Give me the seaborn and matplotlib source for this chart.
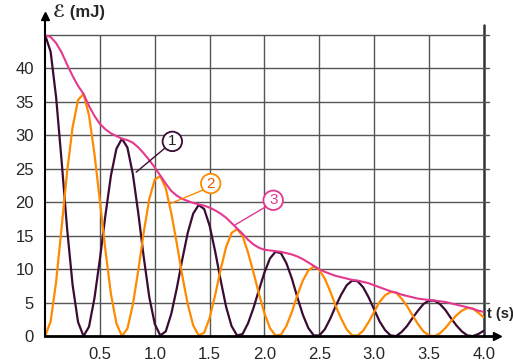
import numpy as np
import pandas as pd
import matplotlib
matplotlib.use("Agg")
import matplotlib.pyplot as plt
import seaborn as sns

# time axis (s), one point every 0.05 s
t = np.round(np.arange(0, 4.001, 0.05), 2)

# curve 1 (potential energy, mJ)
e1 = [45.0, 42.5, 35.7, 26.2, 16.1, 7.7, 2.1, 0.0, 1.4, 5.7,
      11.6, 18.1, 24.0, 28.0, 29.5, 28.2, 24.2, 18.3, 11.7, 5.8,
      1.8, 0.1, 0.7, 3.3, 7.1, 11.4, 15.4, 18.3, 19.6, 19.0,
      16.5, 12.7, 8.4, 4.4, 1.5, 0.1, 0.3, 1.9, 4.2, 6.9,
      9.5, 11.6, 12.6, 12.4, 10.9, 8.6, 5.8, 3.2, 1.2, 0.1,
      0.1, 1.0, 2.6, 4.5, 6.2, 7.6, 8.3, 8.2, 7.3, 5.8,
      4.0, 2.2, 0.9, 0.1, 0.0, 0.6, 1.5, 2.7, 3.8, 4.8,
      5.3, 5.3, 4.8, 3.9, 2.7, 1.6, 0.7, 0.1, 0.0, 0.3, 0.8]

# curve 2 (kinetic energy, mJ)
e2 = [0.0, 2.2, 8.1, 16.2, 24.5, 31.2, 35.3, 36.2, 33.0, 27.2,
      20.1, 12.8, 6.3, 1.9, 0.0, 1.1, 4.7, 9.9, 15.6, 20.5,
      23.4, 23.9, 22.1, 18.4, 13.9, 9.1, 4.8, 1.6, 0.1, 0.5,
      2.7, 6.1, 9.9, 13.3, 15.4, 16.0, 15.0, 12.5, 9.5, 6.3,
      3.4, 1.2, 0.1, 0.2, 1.5, 3.6, 6.1, 8.3, 9.8, 10.4,
      9.9, 8.6, 6.7, 4.5, 2.6, 1.0, 0.1, 0.1, 0.8, 2.1,
      3.6, 5.1, 6.1, 6.6, 6.5, 5.6, 4.5, 3.1, 1.8, 0.7,
      0.1, 0.0, 0.4, 1.2, 2.2, 3.1, 3.8, 4.2, 4.1, 3.5, 2.8]

# curve 3 (total energy, mJ)
e3 = [45.0, 44.7, 43.8, 42.4, 40.6, 38.9, 37.4, 36.2, 34.4, 32.9,
      31.7, 30.9, 30.3, 29.9, 29.5, 29.3, 28.9, 28.2, 27.3, 26.3,
      25.2, 24.0, 22.8, 21.7, 21.0, 20.5, 20.2, 19.9, 19.7, 19.5,
      19.2, 18.8, 18.3, 17.7, 16.9, 16.1, 15.3, 14.4, 13.7, 13.2,
      12.9, 12.8, 12.7, 12.6, 12.4, 12.2, 11.9, 11.5, 11.0, 10.5,
      10.0, 9.6, 9.3, 9.0, 8.8, 8.6, 8.4, 8.3, 8.1, 7.9,
      7.6, 7.3, 7.0, 6.7, 6.5, 6.2, 6.0, 5.8, 5.6, 5.5,
      5.4, 5.3, 5.2, 5.1, 4.9, 4.7, 4.5, 4.3, 4.1, 3.8, 3.6]

x_ticks = [0.5, 1.0, 1.5, 2.0, 2.5, 3.0, 3.5, 4.0]
y_ticks = [0, 5, 10, 15, 20, 25, 30, 35, 40]

purple = "#3b0b33"
orange = "#ff8a00"
pink = "#e4388f"

sns.set_style("white")
plt.rcParams['font.family'] = ['Liberation Sans', 'DejaVu Sans']

df = pd.DataFrame({"t": t, "e1": e1, "e2": e2, "e3": e3})

fig = plt.figure(figsize=(5.13, 3.61), dpi=100)
ax = fig.add_axes([0.088, 0.069, 0.855, 0.834])

# grid
for xv in x_ticks[:-1]:
    ax.axvline(xv, color="#555555", lw=1.0, zorder=0)
ax.plot([4.0, 4.0], [0, 46.5], color="#333333", lw=1.8, zorder=0, clip_on=False)
for yv in y_ticks[1:] + [45]:
    ax.plot([0, 4.05], [yv, yv], color="#555555", lw=1.0, zorder=0, clip_on=False)

sns.lineplot(data=df, x="t", y="e1", color=purple, lw=1.6, ax=ax)
sns.lineplot(data=df, x="t", y="e2", color=orange, lw=1.6, ax=ax)
sns.lineplot(data=df, x="t", y="e3", color=pink, lw=1.5, ax=ax)

ax.set_xlim(0, 4.0)
ax.set_ylim(0, 45)
ax.set_xticks(x_ticks)
ax.set_xticklabels([f"{v:.1f}" for v in x_ticks])
ax.set_yticks(y_ticks)
ax.set_yticklabels([str(v) for v in y_ticks])
ax.tick_params(axis="both", labelsize=12, length=5, width=1.2, direction="out",
               color="#222222", pad=3)
ax.set_xlabel("")
ax.set_ylabel("")

for s in ["top", "right"]:
    ax.spines[s].set_visible(False)
ax.spines["left"].set_linewidth(1.5)
ax.spines["bottom"].set_linewidth(2.0)
ax.spines["left"].set_color("black")
ax.spines["bottom"].set_color("black")

# axis arrows
ax.plot([0, 0], [45, 47.8], color="black", lw=1.5, clip_on=False)
ax.plot([0], [47.8], marker="^", ms=6, color="black", clip_on=False)
ax.plot([4.0, 4.12], [0, 0], color="black", lw=2.0, clip_on=False)
ax.plot([4.12], [0], marker=">", ms=6, color="black", clip_on=False)

ax.text(0.018, 1.075, "ℰ (mJ)", transform=ax.transAxes, fontsize=12,
        ha="left", va="center", fontweight="bold")
ax.text(1.008, 0.05, "t (s)", transform=ax.transAxes, fontsize=10.5,
        ha="left", va="bottom", fontweight="bold")

# circled curve labels with leader lines
labels = [("1", 1.16, 29.1, 0.83, 24.5, purple, "#222222"),
          ("2", 1.51, 22.8, 1.14, 19.8, orange, "#f05a00"),
          ("3", 2.08, 20.3, 1.73, 16.6, pink, pink)]
for txt, cx, cy, lx, ly, ec, fc in labels:
    ax.plot([cx - 0.06, lx], [cy - 0.9, ly], color=ec, lw=1.0, zorder=3)
    ax.text(cx, cy, txt, fontsize=11, ha="center", va="center", color=fc,
            zorder=4,
            bbox=dict(boxstyle="circle,pad=0.18", fc="white", ec=ec, lw=1.3))

plt.savefig("out.png", dpi=100)
